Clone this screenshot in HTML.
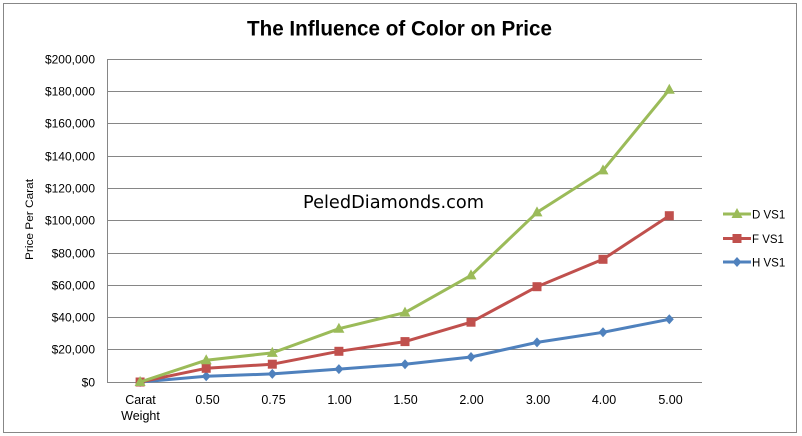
<!DOCTYPE html>
<html>
<head>
<meta charset="utf-8">
<style>
html,body{margin:0;padding:0;background:#fff;}
svg{display:block;}
text{font-family:"Liberation Sans",sans-serif;fill:#000;}
</style>
</head>
<body>
<svg width="802" height="436" viewBox="0 0 802 436" xmlns="http://www.w3.org/2000/svg">
<rect x="0" y="0" width="802" height="436" fill="#fff"/>
<rect x="3.5" y="3.5" width="793" height="429" fill="none" stroke="#878787" stroke-width="1"/>

<text x="399.5" y="35.5" font-size="21" font-weight="bold" text-anchor="middle" textLength="305" lengthAdjust="spacingAndGlyphs">The Influence of Color on Price</text>

<!-- gridlines -->
<g stroke="#868686" stroke-width="1">
<line x1="107" y1="59.5" x2="702" y2="59.5"/>
<line x1="107" y1="91.5" x2="702" y2="91.5"/>
<line x1="107" y1="123.5" x2="702" y2="123.5"/>
<line x1="107" y1="156.5" x2="702" y2="156.5"/>
<line x1="107" y1="188.5" x2="702" y2="188.5"/>
<line x1="107" y1="220.5" x2="702" y2="220.5"/>
<line x1="107" y1="253.5" x2="702" y2="253.5"/>
<line x1="107" y1="285.5" x2="702" y2="285.5"/>
<line x1="107" y1="317.5" x2="702" y2="317.5"/>
<line x1="107" y1="349.5" x2="702" y2="349.5"/>
<line x1="107" y1="382.5" x2="702" y2="382.5"/>
<line x1="107.5" y1="59" x2="107.5" y2="382.5"/>
</g>

<!-- y labels -->
<g font-size="12" text-anchor="end">
<text x="95" y="63.5">$200,000</text>
<text x="95" y="95.5">$180,000</text>
<text x="95" y="127.5">$160,000</text>
<text x="95" y="160.5">$140,000</text>
<text x="95" y="192.5">$120,000</text>
<text x="95" y="224.5">$100,000</text>
<text x="95" y="257.5">$80,000</text>
<text x="95" y="289.5">$60,000</text>
<text x="95" y="321.5">$40,000</text>
<text x="95" y="353.5">$20,000</text>
<text x="95" y="386.5">$0</text>
</g>

<text transform="translate(33,219.5) rotate(-90)" font-size="11" text-anchor="middle" textLength="81" lengthAdjust="spacingAndGlyphs">Price Per Carat</text>

<!-- x labels -->
<g font-size="12.5" text-anchor="middle">
<text x="140.5" y="404">Carat</text>
<text x="140.5" y="420">Weight</text>
<text x="207.5" y="404">0.50</text>
<text x="273.5" y="404">0.75</text>
<text x="339.5" y="404">1.00</text>
<text x="405.5" y="404">1.50</text>
<text x="471.5" y="404">2.00</text>
<text x="538" y="404">3.00</text>
<text x="604" y="404">4.00</text>
<text x="670.5" y="404">5.00</text>
</g>

<text x="303" y="208" font-size="18" textLength="181" lengthAdjust="spacingAndGlyphs" style="font-family:'DejaVu Sans',sans-serif">PeledDiamonds.com</text>

<defs>
<path id="tri" d="M0,-6 L5.5,4 L-5.5,4 Z" fill="#9BBB59"/>
<rect id="sq" x="-4.5" y="-4.5" width="9" height="9" fill="#C0504D"/>
<path id="dia" d="M0,-5 L4.5,0 L0,5 L-4.5,0 Z" fill="#4F81BD"/>
</defs>

<!-- H VS1 -->
<polyline fill="none" stroke="#4F81BD" stroke-width="3" stroke-linejoin="round" points="140.1,382 206.2,376.3 272.3,373.9 338.9,369.1 405,364.2 471,357 537,342.4 603,332.3 669.3,319.3"/>
<g>
<use href="#dia" x="140.1" y="382"/><use href="#dia" x="206.2" y="376.3"/><use href="#dia" x="272.3" y="373.9"/><use href="#dia" x="338.9" y="369.1"/><use href="#dia" x="405" y="364.2"/><use href="#dia" x="471" y="357"/><use href="#dia" x="537" y="342.4"/><use href="#dia" x="603" y="332.3"/><use href="#dia" x="669.3" y="319.3"/>
</g>

<!-- F VS1 -->
<polyline fill="none" stroke="#C0504D" stroke-width="3" stroke-linejoin="round" points="140.1,382 206.2,368.3 272.3,364.2 338.9,351.3 405,341.6 471,322.2 537,286.7 603,259.3 669.3,215.7"/>
<g>
<use href="#sq" x="140.1" y="382"/><use href="#sq" x="206.2" y="368.3"/><use href="#sq" x="272.3" y="364.2"/><use href="#sq" x="338.9" y="351.3"/><use href="#sq" x="405" y="341.6"/><use href="#sq" x="471" y="322.2"/><use href="#sq" x="537" y="286.7"/><use href="#sq" x="603" y="259.3"/><use href="#sq" x="669.3" y="215.7"/>
</g>

<!-- D VS1 -->
<polyline fill="none" stroke="#9BBB59" stroke-width="3" stroke-linejoin="round" points="140.1,382 206.2,360.2 272.3,352.9 338.9,328.7 405,312.6 471,275.4 537,212.4 603,170.4 669.3,89.7"/>
<g>
<use href="#tri" x="140.1" y="382"/><use href="#tri" x="206.2" y="360.2"/><use href="#tri" x="272.3" y="352.9"/><use href="#tri" x="338.9" y="328.7"/><use href="#tri" x="405" y="312.6"/><use href="#tri" x="471" y="275.4"/><use href="#tri" x="537" y="212.4"/><use href="#tri" x="603" y="170.4"/><use href="#tri" x="669.3" y="89.7"/>
</g>

<!-- legend -->
<line x1="723" y1="214" x2="751" y2="214" stroke="#9BBB59" stroke-width="3"/>
<use href="#tri" x="737" y="214"/>
<text x="752" y="218.5" font-size="11.5">D VS1</text>
<line x1="723" y1="238.5" x2="751" y2="238.5" stroke="#C0504D" stroke-width="3"/>
<use href="#sq" x="737" y="238.5"/>
<text x="752" y="243" font-size="11.5">F VS1</text>
<line x1="723" y1="262" x2="751" y2="262" stroke="#4F81BD" stroke-width="3"/>
<use href="#dia" x="737" y="262"/>
<text x="752" y="266.5" font-size="11.5">H VS1</text>
</svg>
</body>
</html>
